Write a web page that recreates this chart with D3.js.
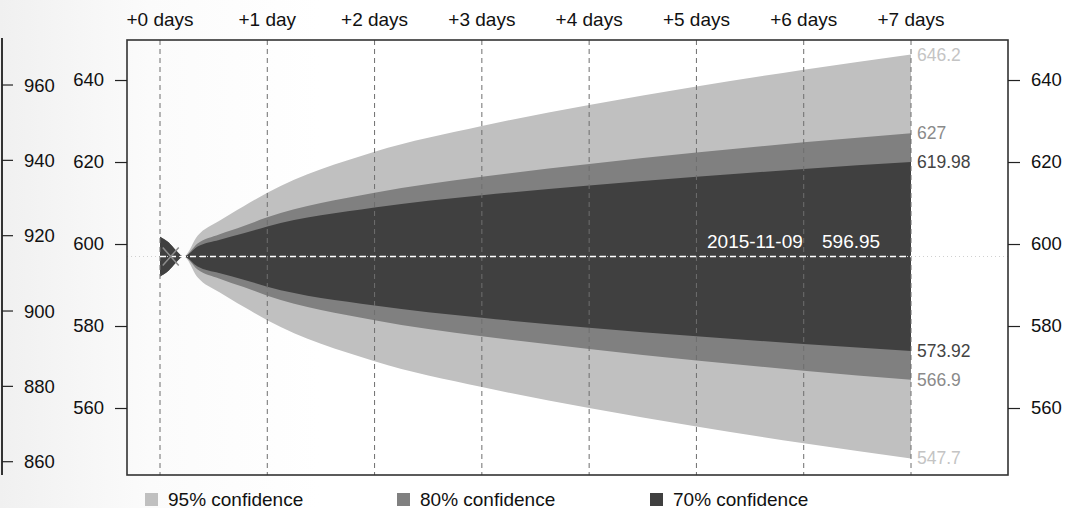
<!DOCTYPE html>
<html>
<head>
<meta charset="utf-8">
<script src="https://cdn.jsdelivr.net/npm/d3@7"></script>
<style>
  body { margin: 0; background: #fff; }
  svg text { font-family: Arial, "Liberation Sans", sans-serif; }
</style>
</head>
<body>
<div id="chart"></div>
<script>

// horizon steps (days after last observation)
var steps = [0, 0.08, 0.15, 0.22, 0.35, 0.55, 0.78, 1, 2, 3, 4, 5, 6, 7];
var dayLabels = ["+0 days", "+1 day", "+2 days", "+3 days", "+4 days", "+5 days", "+6 days", "+7 days"];

// band edges
var upper95 = [601.8, 600.4, 598.4, 596.95, 602.0, 605.6, 609.2, 612.5, 622.5, 628.8, 633.9, 638.4, 642.5, 646.2];
var lower95 = [592.1, 593.5, 595.5, 596.95, 591.9, 588.3, 584.7, 581.4, 571.4, 565.1, 560.0, 555.5, 551.4, 547.7];
var upper80 = [601.8, 600.4, 598.4, 596.95, 600.1, 602.3, 604.4, 606.5, 612.5, 616.4, 619.5, 622.3, 624.8, 627.0];
var lower80 = [592.1, 593.5, 595.5, 596.95, 593.8, 591.6, 589.5, 587.4, 581.4, 577.5, 574.4, 571.6, 569.1, 566.9];
var upper70 = [601.8, 600.4, 598.4, 596.95, 599.4, 601.0, 602.6, 604.3, 608.9, 611.9, 614.3, 616.4, 618.3, 619.98];
var lower70 = [592.1, 593.5, 595.5, 596.95, 594.5, 592.9, 591.3, 589.6, 585.0, 582.0, 579.6, 577.5, 575.6, 573.92];

var lastValue = 596.95;
var lastDate = "2015-11-09";
var endLabels = [
  {v: 646.2, t: "646.2", band: 0},
  {v: 627, t: "627", band: 1},
  {v: 619.98, t: "619.98", band: 2},
  {v: 573.92, t: "573.92", band: 2},
  {v: 566.9, t: "566.9", band: 1},
  {v: 547.7, t: "547.7", band: 0}
];
var legendNames = ["95% confidence", "80% confidence", "70% confidence"];
var yTicks = [560, 580, 600, 620, 640];
var outerTicks = [860, 880, 900, 920, 940, 960];

var bandColor = ["#c0c0c0", "#808080", "#404040"];

var svg_dx = 1065, svg_dy = 508;
var box = {left: 127, right: 1008, top: 40, bottom: 475};

var svg = d3.select("#chart")
            .append("svg")
            .attr("width", svg_dx)
            .attr("height", svg_dy);

// faint shading on the left, from the window behind
var grad = svg.append("defs").append("linearGradient")
    .attr("id", "bg").attr("x1", 0).attr("x2", 1).attr("y1", 0).attr("y2", 0);
grad.append("stop").attr("offset", "0%").attr("stop-color", "#f0f0f0");
grad.append("stop").attr("offset", "14%").attr("stop-color", "#fbfbfb");
grad.append("stop").attr("offset", "30%").attr("stop-color", "#ffffff");
svg.append("rect").attr("width", svg_dx).attr("height", svg_dy).attr("fill", "url(#bg)");

var x = d3.scaleLinear().domain([0, 7]).range([160, 911]),
    y = d3.scaleLinear().domain([543.66, 649.76]).range([box.bottom, box.top]),
    yOuter = d3.scaleLinear().domain([856.47, 972.48]).range([475, 38]);

// outer axis of the chart behind
var gOuter = svg.append("g").attr("transform", "translate(2,0)");
gOuter.append("line").attr("x1", 0).attr("x2", 0).attr("y1", 38).attr("y2", 475)
      .attr("stroke", "#333").attr("stroke-width", 2);
gOuter.selectAll("line.tk").data(outerTicks).enter().append("line")
      .attr("class", "tk")
      .attr("x1", 0).attr("x2", 11)
      .attr("y1", d => yOuter(d)).attr("y2", d => yOuter(d))
      .attr("stroke", "#222").attr("stroke-width", 1.2);
gOuter.selectAll("text").data(outerTicks).enter().append("text")
      .attr("x", 22).attr("y", d => yOuter(d) + 6.5)
      .style("font-size", "18.5px").attr("fill", "#111")
      .text(d => d);

// bands
function band(up, lo) {
  return d3.area()
           .x((d, i) => x(steps[i]))
           .y0((d, i) => y(lo[i]))
           .y1((d, i) => y(up[i]))
           .curve(d3.curveMonotoneX)(up);
}
var bands = [[upper95, lower95], [upper80, lower80], [upper70, lower70]];
svg.append("g").selectAll("path")
   .data(bands)
   .enter()
   .append("path")
   .attr("d", d => band(d[0], d[1]))
   .attr("fill", (d, i) => bandColor[i]);

// dotted level line across the box
svg.append("line")
   .attr("x1", box.left).attr("x2", box.right)
   .attr("y1", y(lastValue)).attr("y2", y(lastValue))
   .attr("stroke", "#d0d0d0").attr("stroke-width", 1)
   .attr("stroke-dasharray", "1,3");

// day gridlines
svg.append("g").selectAll("line")
   .data(dayLabels)
   .enter()
   .append("line")
   .attr("x1", (d, i) => x(i)).attr("x2", (d, i) => x(i))
   .attr("y1", box.top).attr("y2", box.bottom)
   .attr("stroke", "#6e6e6e").attr("stroke-width", 1)
   .attr("stroke-dasharray", "5,4");

// white dashed forecast line
svg.append("line")
   .attr("x1", x(0)).attr("x2", x(7))
   .attr("y1", y(lastValue)).attr("y2", y(lastValue))
   .attr("stroke", "#fff").attr("stroke-width", 1.3)
   .attr("stroke-dasharray", "6,4");

// marker at the last observation
var mx = x(0.1), my = y(lastValue);
svg.append("path")
   .attr("d", "M" + (mx - 8) + "," + (my - 9) + "L" + (mx + 8) + "," + (my + 9) +
              "M" + (mx - 8) + "," + (my + 9) + "L" + (mx + 8) + "," + (my - 9))
   .attr("stroke", "#8c8c8c").attr("stroke-width", 1.5).attr("fill", "none");

// box
svg.append("rect")
   .attr("x", box.left).attr("y", box.top)
   .attr("width", box.right - box.left).attr("height", box.bottom - box.top)
   .attr("fill", "none").attr("stroke", "#333").attr("stroke-width", 1.6);

// top labels
svg.append("g").selectAll("text")
   .data(dayLabels)
   .enter()
   .append("text")
   .attr("x", (d, i) => x(i)).attr("y", 26)
   .attr("text-anchor", "middle")
   .style("font-size", "19px").attr("fill", "#111")
   .text(d => d);

// left and right value axes
var axL = svg.append("g").attr("transform", "translate(" + box.left + ",0)")
             .call(d3.axisLeft(y).tickValues(yTicks).tickSize(12).tickPadding(11));
var axR = svg.append("g").attr("transform", "translate(" + box.right + ",0)")
             .call(d3.axisRight(y).tickValues(yTicks).tickSize(12).tickPadding(11));
[axL, axR].forEach(function (ax) {
  ax.select(".domain").remove();
  ax.selectAll("line").attr("stroke", "#222").attr("stroke-width", 1.2);
  ax.selectAll("text").style("font-size", "18.5px").attr("fill", "#111")
    .attr("font-family", "Arial, 'Liberation Sans', sans-serif");
});

// end labels
svg.append("g").selectAll("text")
   .data(endLabels)
   .enter()
   .append("text")
   .attr("x", x(7) + 6).attr("y", d => y(d.v) + 6)
   .style("font-size", "17.5px")
   .attr("fill", d => d.band == 0 ? "#c4c4c4" : (d.band == 1 ? "#8a8a8a" : "#444"))
   .text(d => d.t);

// date / value caption
var cap = svg.append("g").style("font-size", "19px").attr("fill", "#fff");
cap.append("text").attr("x", 707).attr("y", 248).text(lastDate);
cap.append("text").attr("x", 822).attr("y", 248).text(lastValue);

// legend
var legendX = [145, 397, 650];
var lg = svg.append("g").selectAll("g")
            .data(legendNames)
            .enter()
            .append("g")
            .attr("transform", (d, i) => "translate(" + legendX[i] + ",493)");
lg.append("rect").attr("width", 13).attr("height", 13)
  .attr("fill", (d, i) => bandColor[i]);
lg.append("text").attr("x", 23).attr("y", 12.5)
  .style("font-size", "19px").attr("fill", "#111")
  .text(d => d);

</script>
</body>
</html>
